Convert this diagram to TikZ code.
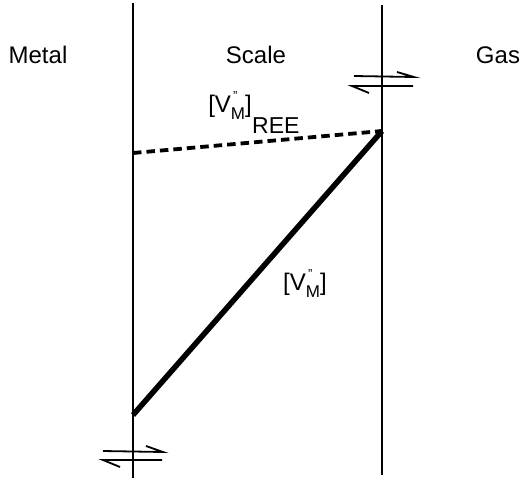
\documentclass[tikz,border=0pt]{standalone}
\usepackage{fontspec}
\setmainfont{Liberation Sans}
\newcommand{\vmlabel}{[V\rlap{\raisebox{0.5em}{\fontsize{13}{13}\selectfont\,''}}\raisebox{-0.3em}{\fontsize{17}{17}\selectfont M}]}
\begin{document}
\begin{tikzpicture}[x=1pt,y=-1pt,
  wall/.style={line width=2pt},
  harp/.style={line width=1.8pt},
  lbl/.style={font=\fontsize{24}{26}\selectfont, inner sep=0pt},
  conc/.style={line width=5.5pt},
  ree/.style={line width=3.8pt, dash pattern=on 8.5pt off 5pt}]
\useasboundingbox (0,0) rectangle (530,480);
% walls
\coordinate (LT) at (133,3); \coordinate (LB) at (133,478);
\coordinate (RT) at (382,5); \coordinate (RB) at (382,475);
\draw[wall] (LT) -- (LB);
\draw[wall] (RT) -- (RB);
% labels
\node[lbl,anchor=base] (metal) at (38,63) {Metal};
\node[lbl,anchor=base] (scale) at (256,63) {Scale};
\node[lbl,anchor=base] (gas) at (498,63) {Gas};
% profiles
\coordinate (D1) at (133,153);
\coordinate (P) at (382,131);
\coordinate (T1) at (133,415);
\draw[ree] (D1) -- (P);
\draw[conc,line cap=butt] (T1) -- (P);
% concentration labels
\node[lbl,anchor=base west] (vm) at (283,290) {\vmlabel};
\node[lbl,anchor=base east] (vmr) at (252,112) {\vmlabel};
\node[lbl,anchor=base west,font=\fontsize{23}{25}\selectfont] (reel) at (vmr.base east) [yshift=-21pt] {REE};
% equilibrium harpoons, gas side
\coordinate (ga1) at (354,76); \coordinate (ga2) at (414,77);
\coordinate (gb1) at (352,86); \coordinate (gb2) at (413,86);
\draw[harp] (ga1) -- (ga2) -- ++(-17,-5);
\draw[harp] (gb2) -- (gb1) -- ++(17,7);
% equilibrium harpoons, metal side
\coordinate (ma1) at (103,451); \coordinate (ma2) at (163,452);
\coordinate (mb1) at (103,460); \coordinate (mb2) at (162,460);
\draw[harp] (ma1) -- (ma2) -- ++(-17,-6);
\draw[harp] (mb2) -- (mb1) -- ++(17,7);
\end{tikzpicture}
\end{document}
